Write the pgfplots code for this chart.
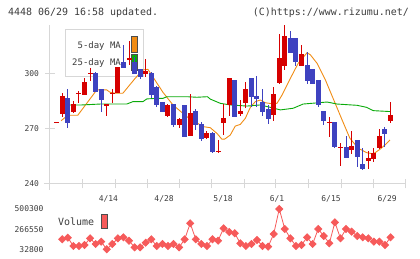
\documentclass[border=0pt]{standalone}
\usepackage{pgfplots}
\usepackage{pgfplotstable}
\pgfplotsset{compat=1.18}
\usepackage{fontspec}
\setmainfont{DejaVu Sans Mono}
\definecolor{upc}{RGB}{214,0,0}
\definecolor{dnc}{RGB}{62,66,192}
\definecolor{ma5}{RGB}{240,140,20}
\definecolor{ma25}{RGB}{10,170,10}
\definecolor{volc}{RGB}{246,90,90}
\definecolor{axc}{RGB}{215,215,215}
\definecolor{txt}{RGB}{60,60,60}

\pgfplotstableread{
i O H L C
0 273.4 273.8 273.4 273.8
1 278.3 289.8 276.7 288.0
3 279.5 285.4 278.7 283.6
4 289.1 290.8 284.2 289.6
5 288.8 298.0 288.8 295.5
6 300.2 303.5 296.4 300.6
9 282.8 283.6 277.3 283.3
10 289.2 291.6 284.3 289.7
11 289.5 303.8 289.5 303.8
13 308.2 318.2 304.7 308.6
16 300.2 308.4 298.6 301.6
20 277.2 283.5 276.4 283.1
22 272.2 276.2 270.4 275.2
24 266.3 289.1 266.3 278.8
27 264.9 269.1 264.8 268.0
29 257.6 264.0 256.7 258.1
30 273.4 283.5 266.5 275.9
31 283.1 298.0 277.1 298.0
33 278.3 285.8 277.1 280.0
34 284.4 295.5 281.3 291.8
39 277.5 292.7 274.6 289.1
40 295.2 321.8 294.5 308.7
41 304.5 326.5 302.2 320.7
44 304.5 315.8 304.4 310.9
49 273.4 276.4 265.8 273.9
51 259.8 262.5 249.8 260.3
53 258.5 268.9 256.4 260.7
56 252.7 258.0 248.2 254.4
57 253.9 259.8 251.8 256.8
58 259.8 270.0 258.9 266.2
60 274.5 284.9 273.4 277.6
}\upT

\pgfplotstableread{
i O H L C
2 286.9 291.8 270.8 273.5
7 300.7 300.9 290.0 290.3
8 291.8 292.0 279.5 285.6
12 306.5 315.8 303.5 303.5
14 306.5 309.5 300.0 300.0
15 302.5 302.7 297.1 298.5
17 300.7 300.9 287.0 288.8
18 293.1 293.2 282.0 283.3
19 284.7 284.8 279.3 279.5
21 283.6 283.7 271.0 272.2
23 283.1 283.2 265.7 265.8
25 280.0 280.9 269.5 272.2
26 272.7 274.0 263.6 264.8
28 268.0 268.1 256.8 257.6
32 296.7 296.8 276.5 276.7
35 297.8 297.9 282.0 287.6
36 288.0 298.9 281.8 286.4
37 284.7 291.6 277.1 279.5
38 280.9 283.1 272.6 275.6
42 319.6 323.3 311.5 311.6
43 319.5 319.6 304.4 306.3
45 305.1 311.8 294.6 296.4
46 302.7 302.8 294.4 294.5
47 296.7 296.8 281.8 283.3
48 279.8 279.9 272.2 274.4
50 273.6 273.7 259.5 260.3
52 260.0 266.2 254.3 254.4
54 264.0 264.1 249.4 254.9
55 250.9 259.5 247.6 248.2
59 270.0 271.3 260.4 267.3
}\downT

\pgfplotstableread{
x v
0.8 274.5
2.0 277.5
3.8 277.5
7.2 291.3
9.0 291.3
9.6 290.0
10.5 289.5
11.9 289.5
14.1 297.6
15.5 302.2
16.4 302.5
19.1 290.0
20.9 283.1
23.4 276.7
26.3 271.3
27.6 270.7
28.8 267.6
29.7 264.4
30.2 264.5
31.2 266.7
32.1 271.6
33.0 272.5
33.9 275.8
34.8 281.8
35.7 284.9
36.6 285.8
37.5 284.3
38.4 283.9
39.6 284.0
40.5 288.5
42.0 297.6
43.4 305.8
45.0 311.6
45.6 310.4
46.8 305.8
48.3 296.7
49.8 285.8
51.3 274.9
52.7 264.9
54.2 259.5
55.7 257.1
56.9 256.4
58.1 258.9
59.0 261.3
59.9 264.0
}\maFive

\pgfplotstableread{
x v
1.2 283.1
4.5 283.1
7.8 283.6
12.6 283.6
13.7 284.9
15.5 284.9
16.2 286.4
18.0 286.7
19.1 286.7
19.8 287.6
23.4 287.6
25.2 287.3
27.1 287.6
27.6 286.3
29.4 284.0
31.2 283.1
34.2 282.5
36.6 283.1
38.4 281.8
40.2 280.4
42.5 281.3
44.3 283.6
48.6 284.7
50.4 283.6
54.0 282.9
55.7 281.8
56.9 280.0
59.9 279.5
}\maTwentyFive

\pgfplotstableread{
i vol
1 148450
2 167700
3 71100
4 71100
5 82700
6 160000
7 94300
8 121300
9 32800
10 94300
11 160000
12 171600
13 132900
14 55600
15 55600
16 109700
17 148450
18 71100
19 94300
20 71100
21 94300
22 55600
23 148450
24 334000
25 148450
26 94300
27 71100
28 148450
29 132900
30 276400
31 233500
32 218400
33 102400
34 71100
35 94300
36 140700
37 71100
38 63300
39 210300
40 500300
41 268300
42 160000
43 71100
44 82700
45 171600
46 94300
47 268300
48 187100
49 102400
50 345600
51 160000
52 268300
53 237300
54 187100
55 171600
56 160000
57 121300
58 121300
59 82700
60 171600
}\volT

\pgfplotsset{
  candle/.style args={#1/#2}{#1, only marks, mark=none, mark size=0pt,
    error bars/.cd, y dir=both, y explicit, error mark=none,
    error bar style={draw=#1, line width=#2, solid}},
}

\begin{document}
\begin{tikzpicture}
\useasboundingbox (0bp,0bp) rectangle (420bp,259bp);
\node[anchor=west, text=txt, font=\fontsize{10}{12}\selectfont, inner sep=0] at (8bp,246bp) {4448 06/29 16:58 updated.};
\node[anchor=east, text=txt, font=\fontsize{10}{12}\selectfont, inner sep=0] at (409bp,246bp) {(C)https://www.rizumu.net/};
% legend box (behind candles)
\draw[axc, line width=1bp, fill=white] (65.7bp,229bp) rectangle (143bp,182bp);
\node[anchor=east, font=\fontsize{9}{11}\selectfont, text=txt, inner sep=0] at (121bp,213bp) {5-day MA};
\node[anchor=east, font=\fontsize{9}{11}\selectfont, text=txt, inner sep=0] at (121bp,196.3bp) {25-day MA};
\draw[black!70, line width=0.8bp, fill=ma5] (131bp,222.3bp) rectangle (137.7bp,206.7bp);
\draw[black!70, line width=0.8bp, fill=ma25] (131bp,204.7bp) rectangle (137.7bp,189bp);

\begin{axis}[
  at={(50bp,75bp)}, anchor=south west, scale only axis,
  width=355bp, height=159bp,
  xmin=-1.2, xmax=62.6, ymin=240, ymax=326.7,
  axis x line*=bottom, axis y line*=left,
  axis line style={axc, line width=1bp, -, shorten <=-6bp},
  tick style={axc, line width=1bp}, major tick length=9bp, tick align=center,
  ytick={240,270,300},
  yticklabel style={font=\fontsize{8}{9}\selectfont, text=txt, xshift=-3bp},
  xtick={-1.2,4.6,10.5,16.3,22.1,27.8,33.7,39.4,45.3,51.1,57.0,62.6},
  xticklabels={},
  extra x ticks={9.3,19.3,29.9,39.6,49.3,59.4},
  extra x tick labels={4/14,4/28,5/18,6/1,6/15,6/29},
  extra x tick style={major tick length=0pt, xticklabel style={font=\fontsize{8}{9}\selectfont, text=txt, yshift=-8bp}},
  /pgf/number format/assume math mode=true,
  clip=false,
]
\addplot[ma5, line width=0.9bp, mark=none] table[x=x, y=v] \maFive;
\addplot[ma25, line width=0.9bp, mark=none] table[x=x, y=v] \maTwentyFive;
% wicks
\addplot[candle=upc/1bp]
  table[x=i, y expr={(\thisrow{H}+\thisrow{L})/2}, y error expr={(\thisrow{H}-\thisrow{L})/2}] \upT;
\addplot[candle=dnc/1bp]
  table[x=i, y expr={(\thisrow{H}+\thisrow{L})/2}, y error expr={(\thisrow{H}-\thisrow{L})/2}] \downT;
% bodies
\addplot[candle=upc/5bp]
  table[x=i, y expr={(\thisrow{O}+\thisrow{C})/2}, y error expr={max(abs(\thisrow{C}-\thisrow{O})/2,0.3)}] \upT;
\addplot[candle=dnc/5bp]
  table[x=i, y expr={(\thisrow{O}+\thisrow{C})/2}, y error expr={max(abs(\thisrow{C}-\thisrow{O})/2,0.3)}] \downT;
\end{axis}

% volume legend
\node[anchor=west, font=\fontsize{10}{12}\selectfont, text=txt, inner sep=0] at (58bp,37bp) {Volume};
\draw[black!70, line width=0.8bp, fill=volc] (101.7bp,44.5bp) rectangle (107.3bp,30.5bp);

\begin{axis}[
  at={(50bp,6.7bp)}, anchor=south west, scale only axis,
  width=355bp, height=47.3bp,
  xmin=-1.2, xmax=62.6, ymin=-2000, ymax=546700,
  axis line style={draw=none},
  major tick length=0pt,
  xtick=\empty,
  ytick={32800,266550,500300},
  scaled y ticks=false,
  yticklabel style={font=\fontsize{8}{9}\selectfont, text=txt, xshift=-3bp, /pgf/number format/fixed, /pgf/number format/1000 sep={}},
  /pgf/number format/assume math mode=true,
  clip=false,
]
\addplot[volc, line width=0.8bp, mark=square*, mark size=2.5bp, mark options={rotate=45, fill=volc, draw=volc}] table[x=i, y=vol] \volT;
\end{axis}
\end{tikzpicture}
\end{document}
